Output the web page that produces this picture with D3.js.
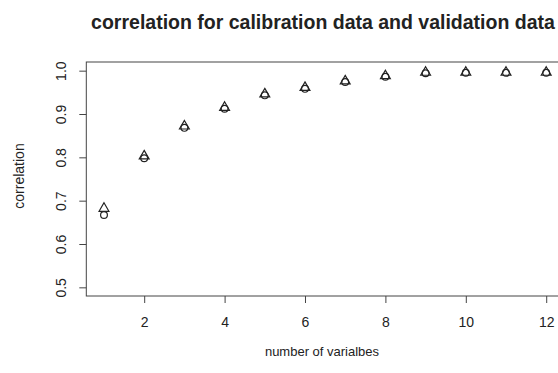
<!DOCTYPE html>
<html>
<head>
<meta charset="utf-8">
<script src="https://cdn.jsdelivr.net/npm/d3@7"></script>
<style>
    body { margin: 0; background: #fff; }
    svg { display: block; font-family: "Liberation Sans", Arial, sans-serif; }
</style>
</head>
<body>
<svg id="chart" width="558" height="373"></svg>
<script>
// number of variables on x
var nVars = [1, 2, 3, 4, 5, 6, 7, 8, 9, 10, 11, 12];
// correlation, calibration data (circles)
var calibration = [0.667, 0.798, 0.868, 0.912, 0.943, 0.958, 0.974, 0.986, 0.994, 0.995, 0.995, 0.995];
// correlation, validation data (triangles)
var validation = [0.682, 0.803, 0.872, 0.915, 0.946, 0.961, 0.976, 0.988, 0.996, 0.996, 0.996, 0.996];
var xTicks = [2, 4, 6, 8, 10, 12];
var yTicks = [0.5, 0.6, 0.7, 0.8, 0.9, 1.0];

var svg = d3.select("#chart");
var ink = "#222";

// R style: 4% padding on each side
var x = d3.scaleLinear().domain([0.56, 12.44]).range([86.3, 563.9]);
var y = d3.scaleLinear().domain([0.48, 1.02]).range([296, 62]);

// plot box
svg.append("rect")
    .attr("x", x(0.56)).attr("y", y(1.02))
    .attr("width", x(12.44) - x(0.56))
    .attr("height", y(0.48) - y(1.02))
    .attr("fill", "none").attr("stroke", "#444").attr("stroke-width", 1);

// x axis
var xAxis = svg.append("g")
    .attr("transform", "translate(0," + y(0.48) + ")")
    .call(d3.axisBottom(x).tickValues(xTicks).tickSize(7).tickPadding(14).tickFormat(d3.format("d")));
xAxis.select(".domain").remove();
xAxis.selectAll("line").attr("stroke", "#444");
xAxis.selectAll("text").attr("font-size", 14).attr("fill", ink);

// y axis, labels rotated like R's las=0
var yAxis = svg.append("g")
    .attr("transform", "translate(" + x(0.56) + ",0)")
    .call(d3.axisLeft(y).tickValues(yTicks).tickSize(7).tickFormat(d3.format(".1f")));
yAxis.select(".domain").remove();
yAxis.selectAll("line").attr("stroke", "#444");
yAxis.selectAll("text")
    .attr("font-size", 14).attr("fill", ink)
    .attr("x", 0).attr("dy", 0)
    .attr("text-anchor", "middle")
    .attr("transform", "translate(-20,0) rotate(-90)");

// points
var tri = d3.symbol().type(d3.symbolTriangle).size(42);

svg.append("g").selectAll("circle")
    .data(nVars)
    .enter().append("circle")
    .attr("cx", function(d, i) { return x(d); })
    .attr("cy", function(d, i) { return y(calibration[i]); })
    .attr("r", 3.4)
    .attr("fill", "none").attr("stroke", ink).attr("stroke-width", 1.2);

svg.append("g").selectAll("path")
    .data(nVars)
    .enter().append("path")
    .attr("d", tri)
    .attr("transform", function(d, i) { return "translate(" + x(d) + "," + y(validation[i]) + ")"; })
    .attr("fill", "none").attr("stroke", ink).attr("stroke-width", 1.2);

// titles
svg.append("text")
    .attr("x", 323).attr("y", 29)
    .attr("text-anchor", "middle")
    .attr("font-size", 19.5).attr("font-weight", "bold").attr("fill", ink)
    .text("correlation for calibration data and validation data");

svg.append("text")
    .attr("x", 322).attr("y", 356)
    .attr("text-anchor", "middle")
    .attr("font-size", 13).attr("fill", ink)
    .text("number of varialbes");

svg.append("text")
    .attr("transform", "translate(24,176) rotate(-90)")
    .attr("text-anchor", "middle")
    .attr("font-size", 14).attr("fill", ink)
    .text("correlation");
</script>
</body>
</html>
